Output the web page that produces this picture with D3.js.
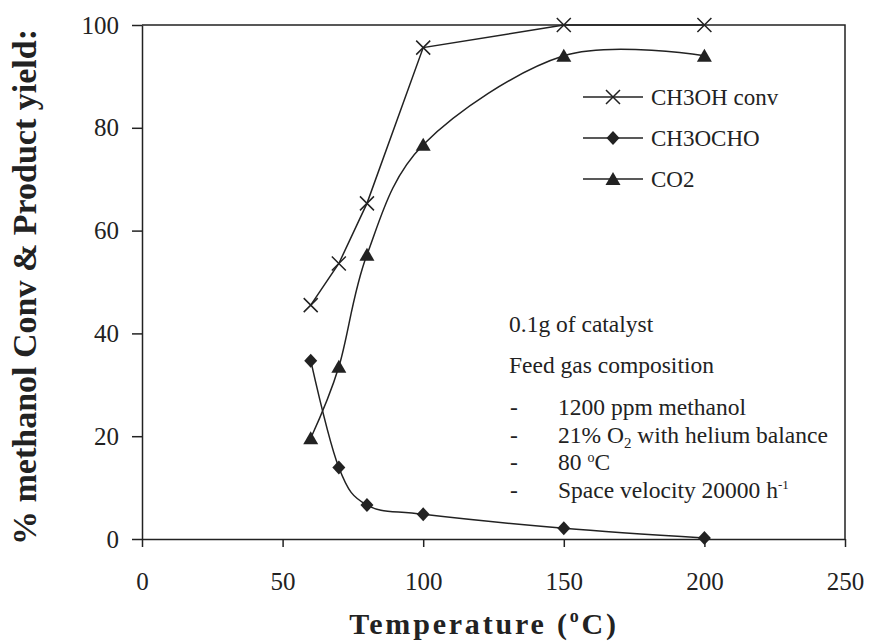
<!DOCTYPE html>
<html>
<head>
<meta charset="utf-8">
<script src="https://cdn.jsdelivr.net/npm/d3@7"></script>
<style>
  body { margin: 0; background: #fff; }
  svg text { font-family: "Liberation Serif", "Times New Roman", serif; fill: #222; }
</style>
</head>
<body>
<div id="chart-container"></div>
<script>
// temperature (oC)
const temps = [60, 70, 80, 100, 150, 200];
// % conversion / yield
const ch3ohConv = [45.5, 53.6, 65.3, 95.6, 100, 100];
const ch3ocho = [34.7, 13.9, 6.6, 4.8, 2.1, 0.2];
const co2 = [19.6, 33.5, 55.3, 76.7, 94.0, 94.0];
const seriesNames = ["CH3OH conv", "CH3OCHO", "CO2"];
const xTicks = [0, 50, 100, 150, 200, 250];
const yTicks = [0, 20, 40, 60, 80, 100];

const width = 872;
const height = 642;
const margin = { top: 25, right: 27, bottom: 103, left: 142 };
const ink = "#222";
const serif = '"Liberation Serif", "Times New Roman", serif';

const svg = d3
  .select("#chart-container")
  .append("svg")
  .attr("width", width)
  .attr("height", height)
  .attr("font-family", serif);

const x = d3.scaleLinear().domain([0, 250]).range([margin.left, width - margin.right]);
const y = d3.scaleLinear().domain([0, 100]).range([height - margin.bottom, margin.top]);

// markers drawn around (0,0)
function drawMarker(g, kind) {
  if (kind === "cross") {
    g.append("path")
      .attr("d", "M-7,-7L7,7M-7,7L7,-7")
      .style("stroke", ink)
      .style("stroke-width", 1.5)
      .style("fill", "none");
  } else if (kind === "diamond") {
    g.append("path").attr("d", "M0,-7L6.5,0L0,7L-6.5,0Z").style("fill", ink);
  } else {
    g.append("path").attr("d", "M0,-7L7.5,6L-7.5,6Z").style("fill", ink);
  }
}

// axes
const yAxis = svg
  .append("g")
  .attr("transform", `translate(${margin.left},0)`)
  .call(d3.axisLeft(y).tickValues(yTicks).tickSize(10).tickSizeOuter(0).tickPadding(13));
const xAxis = svg
  .append("g")
  .attr("transform", `translate(0,${y(0)})`)
  .call(d3.axisBottom(x).tickValues(xTicks).tickSize(8).tickSizeOuter(0).tickPadding(25));

[yAxis, xAxis].forEach((ax) => {
  ax.attr("font-family", serif);
  ax.selectAll("path, line").style("stroke", ink).style("stroke-width", 1.5);
  ax.selectAll("text")
    .style("font-family", serif)
    .style("font-size", "25px")
    .style("fill", ink);
});

// frame top / right
svg.append("path")
  .attr("d", `M${x(0)},${y(100)}H${x(250)}V${y(0)}`)
  .style("fill", "none")
  .style("stroke", ink)
  .style("stroke-width", 1.5);

// series
const series = [
  { name: seriesNames[0], values: ch3ohConv, marker: "cross", curve: d3.curveLinear },
  { name: seriesNames[1], values: ch3ocho, marker: "diamond", curve: d3.curveCardinal.tension(0) },
  { name: seriesNames[2], values: co2, marker: "triangle", curve: d3.curveCardinal.tension(0) },
];

series.forEach((s) => {
  const pts = temps.map((t, i) => [x(t), y(s.values[i])]);
  svg.append("path")
    .attr("d", d3.line().curve(s.curve)(pts))
    .style("fill", "none")
    .style("stroke", ink)
    .style("stroke-width", 1.5);
  pts.forEach((p) => {
    drawMarker(svg.append("g").attr("transform", `translate(${p[0]},${p[1]})`), s.marker);
  });
});

// legend
const legend = svg.append("g").attr("transform", "translate(583,97)");
series.forEach((s, j) => {
  const row = legend.append("g").attr("transform", `translate(0,${j * 41})`);
  row.append("line")
    .attr("x1", 0).attr("x2", 60)
    .style("stroke", ink).style("stroke-width", 1.5);
  drawMarker(row.append("g").attr("transform", "translate(30,0)"), s.marker);
  row.append("text")
    .attr("x", 68)
    .attr("dy", "0.35em")
    .style("font-size", "23px")
    .text(s.name);
});

// annotation
const note = svg.append("g").style("font-size", "23.5px");
note.append("text").attr("x", 509).attr("y", 332).text("0.1g of catalyst");
note.append("text").attr("x", 509).attr("y", 373).text("Feed gas composition");
const itemY = [415, 443, 470, 498];
itemY.forEach((yy) => note.append("text").attr("x", 510).attr("y", yy).text("-"));
note.append("text").attr("x", 558).attr("y", itemY[0]).text("1200 ppm methanol");
const t2 = note.append("text").attr("x", 558).attr("y", itemY[1]);
t2.append("tspan").text("21% O");
t2.append("tspan").attr("dy", 5).style("font-size", "15px").text("2");
t2.append("tspan").attr("dy", -5).text(" with helium balance");
const t3 = note.append("text").attr("x", 558).attr("y", itemY[2]);
t3.append("tspan").text("80 ");
t3.append("tspan").attr("dy", -8).style("font-size", "14px").text("o");
t3.append("tspan").attr("dy", 8).text("C");
const t4 = note.append("text").attr("x", 558).attr("y", itemY[3]);
t4.append("tspan").text("Space velocity 20000 h");
t4.append("tspan").attr("dy", -9).style("font-size", "13px").text("-1");

// axis titles
const xt = svg.append("text")
  .attr("x", 484)
  .attr("y", 634)
  .attr("text-anchor", "middle")
  .style("font-size", "30px")
  .style("font-weight", "bold")
  .style("letter-spacing", "2.8px");
xt.append("tspan").text("Temperature (");
xt.append("tspan").attr("dy", -12).style("font-size", "18px").text("o");
xt.append("tspan").attr("dy", 12).text("C)");

svg.append("text")
  .attr("transform", `translate(36,${(27 + 547) / 2}) rotate(-90)`)
  .attr("text-anchor", "middle")
  .style("font-size", "34px")
  .style("font-weight", "bold")
  .text("% methanol Conv & Product yield:");
</script>
</body>
</html>
